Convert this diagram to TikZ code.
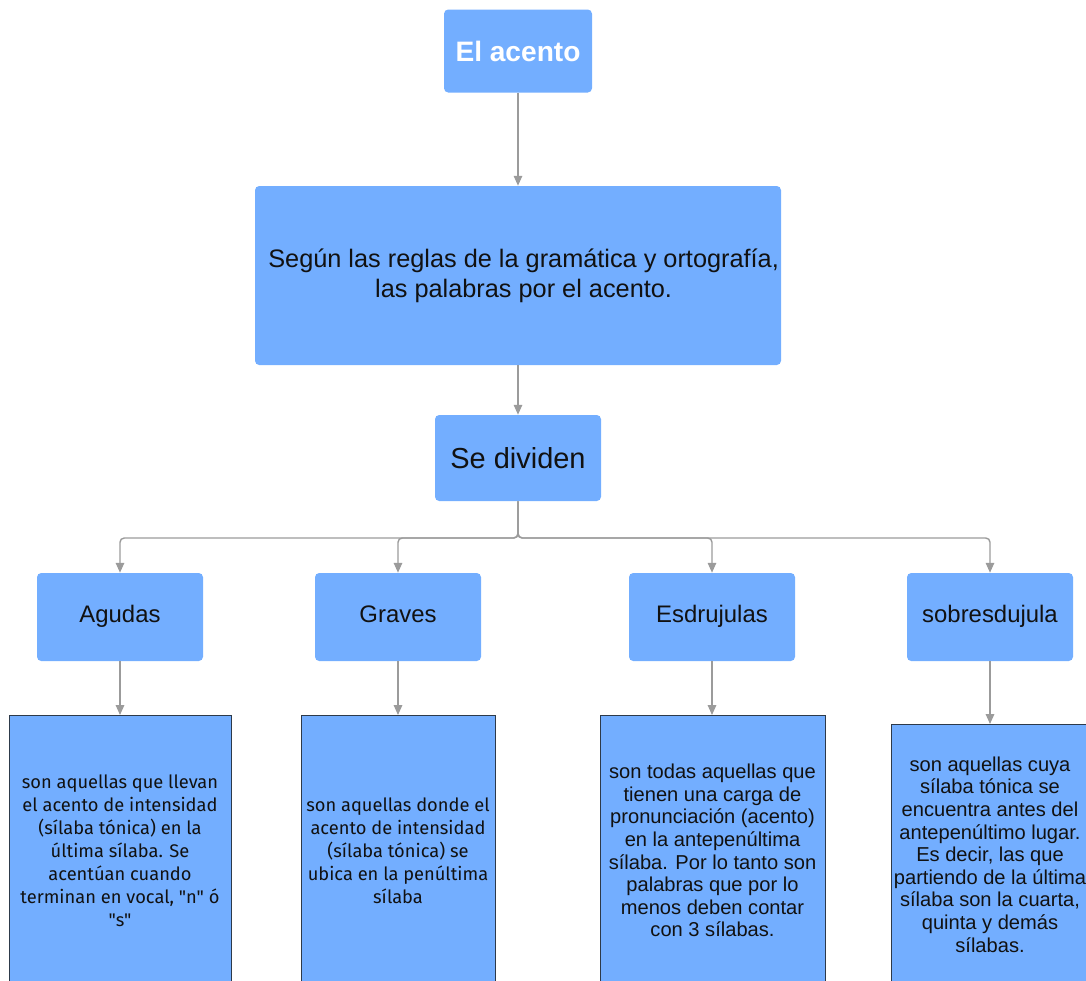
\documentclass[tikz,border=0pt]{standalone}
\usepackage{fontspec}
\setmainfont{Liberation Sans}
\newfontfamily\humfont{Fira Sans}
\usetikzlibrary{positioning,arrows.meta}
\definecolor{boxblue}{RGB}{115,174,255}
\definecolor{linegray}{RGB}{155,155,155}
\definecolor{edgedark}{RGB}{45,58,74}
\definecolor{txt}{RGB}{17,17,17}
\tikzset{
  topic/.style={rectangle, rounded corners=3pt, fill=boxblue, text=txt, align=center, inner sep=2pt},
  headbox/.style={topic, text=white, font=\fontsize{20}{24}\selectfont\bfseries},
  kind/.style={topic, minimum width=4.15cm, minimum height=2.2cm, text height=12.5pt, text depth=5.3pt, font=\fontsize{17}{20}\selectfont},
  defn/.style={rectangle, fill=boxblue, draw=edgedark, line width=0.7pt, text=txt, align=center, inner sep=2pt, anchor=north, font=\fontsize{14.3}{16.1}\selectfont},
  humtext/.style={font=\humfont\fontsize{13}{16.4}\selectfont},
  conn/.style={draw=linegray, line width=1pt, -{Triangle[length=7pt,width=6pt]}, rounded corners=3pt}
}

\begin{document}
\begin{tikzpicture}
        \useasboundingbox (0,0) rectangle (27.15,-24.525);
        \node[headbox, minimum width=3.7cm, minimum height=2.075cm] (acento) at (12.95,-1.275) {El acento};
        \node[topic, inner xsep=0pt, minimum width=13.15cm, minimum height=4.475cm, font=\fontsize{18}{21.5}\selectfont] (reglas) at (12.95,-6.8875) {\hspace{8pt}Según las reglas de la gramática y ortografía,\\\hspace{8pt}las palabras por el acento.};
        \node[topic, minimum width=4.15cm, minimum height=2.15cm, font=\fontsize{20.6}{24}\selectfont] (divide) at (12.95,-11.45) {Se dividen};
        \coordinate (bus) at (12.95,-13.45);
        % categorias
        \node[kind] (ag) at (3.0,-15.425) {Agudas};
        \node[kind] (gr) at (9.95,-15.425) {Graves};
        \node[kind] (es) at (17.8,-15.425) {Esdrujulas};
        \node[kind] (so) at (24.75,-15.425) {sobresdujula};
        % definiciones
        \node[defn, humtext, minimum width=5.55cm, minimum height=6.75cm] (agd) at (3.0,-17.875) {son aquellas que llevan\\el acento de intensidad\\(sílaba tónica) en la\\última sílaba. Se\\acentúan cuando\\terminan en vocal, "n" ó\\"s"};
        \node[defn, humtext, minimum width=4.85cm, minimum height=6.75cm] (grd) at (9.95,-17.875) {son aquellas donde el\\acento de intensidad\\(sílaba tónica) se\\ubica en la penúltima\\sílaba};
        \node[defn, minimum width=5.625cm, minimum height=6.75cm] (esd) at (17.8125,-17.875) {son todas aquellas que\\tienen una carga de\\pronunciación (acento)\\en la antepenúltima\\sílaba. Por lo tanto son\\palabras que por lo\\menos deben contar\\con 3 sílabas.};
        \node[defn, minimum width=4.9cm, minimum height=6.5cm] (sod) at (24.75,-18.1) {son aquellas cuya\\sílaba tónica se\\encuentra antes del\\antepenúltimo lugar.\\Es decir, las que\\partiendo de la última\\sílaba son la cuarta,\\quinta y demás\\sílabas.};
        % flechas
        \draw[conn] (acento) -- (reglas);
        \draw[conn] (reglas) -- (divide);
        \draw[conn] (divide.south) -- (bus) -| (ag.north);
        \draw[conn] (divide.south) -- (bus) -| (gr.north);
        \draw[conn] (divide.south) -- (bus) -| (es.north);
        \draw[conn] (divide.south) -- (bus) -| (so.north);
        \draw[conn] (ag) -- (ag.south |- agd.north);
        \draw[conn] (gr) -- (gr.south |- grd.north);
        \draw[conn] (es) -- (es.south |- esd.north);
        \draw[conn] (so) -- (so.south |- sod.north);
\end{tikzpicture}
\end{document}
